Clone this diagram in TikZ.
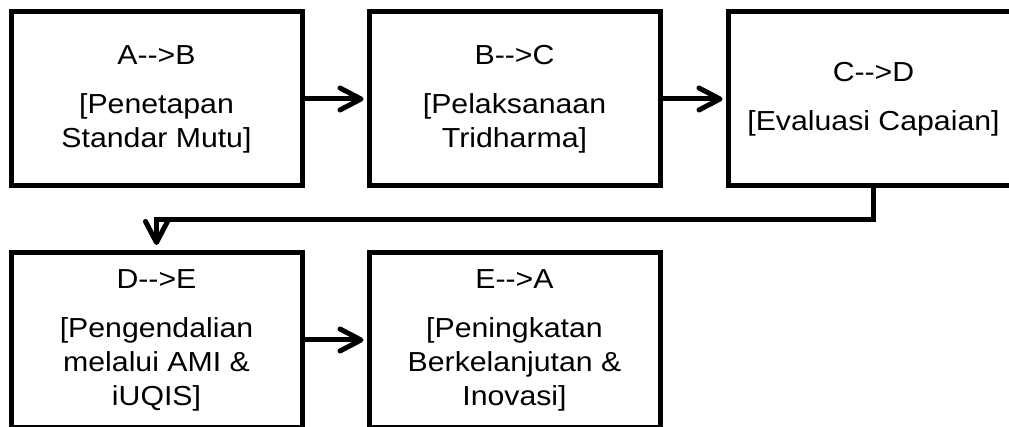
\documentclass[tikz,border=0pt]{standalone}
\usepackage{fontspec}
\setmainfont{Liberation Sans}[FakeStretch=1.1]
\usetikzlibrary{arrows.meta}
\begin{document}
\begin{tikzpicture}[x=1pt,y=-1pt,
  box/.style={draw=black, line width=5pt, fill=white, minimum width=291pt,
    minimum height=174pt, inner sep=0pt, align=center,
    font=\fontsize{27.5}{34}\selectfont},
  flow/.style={draw=black, line width=5pt, line join=miter,
    -{Straight Barb[length=21pt,width=22pt,line cap=round,line join=round]}}]
\useasboundingbox (0,0) rectangle (1009,427);
\clip (0,0) rectangle (1009,427);
\fill[white] (0,0) rectangle (1009,427);
\node[box] (b1) at (156.5,99) {A-\kern0pt->B\\[15pt][Penetapan\\Standar Mutu]};
\node[box] (b2) at (514.5,99) {B-\kern0pt->C\\[15pt][Pelaksanaan\\Tridharma]};
\node[box] (b3) at (873.5,99) {C-\kern0pt->D\\[15pt][Evaluasi Capaian]};
\node[box] (b4) at (156.5,340) {D-\kern0pt->E\\[15pt][Pengendalian\\melalui AMI \&\\iUQIS]};
\node[box] (b5) at (514.5,340) {E-\kern0pt->A\\[15pt][Peningkatan\\Berkelanjutan \&\\Inovasi]};
\draw[flow, shorten >=3pt] (b1) -- (b2);
\draw[flow, shorten >=3pt] (b2) -- (b3);
\draw[flow, shorten >=3pt] (b4) -- (b5);
\draw[flow, shorten >=5.5pt] (b3.south) -- ++(0,31.5) -| (b4.north);
\end{tikzpicture}
\end{document}
